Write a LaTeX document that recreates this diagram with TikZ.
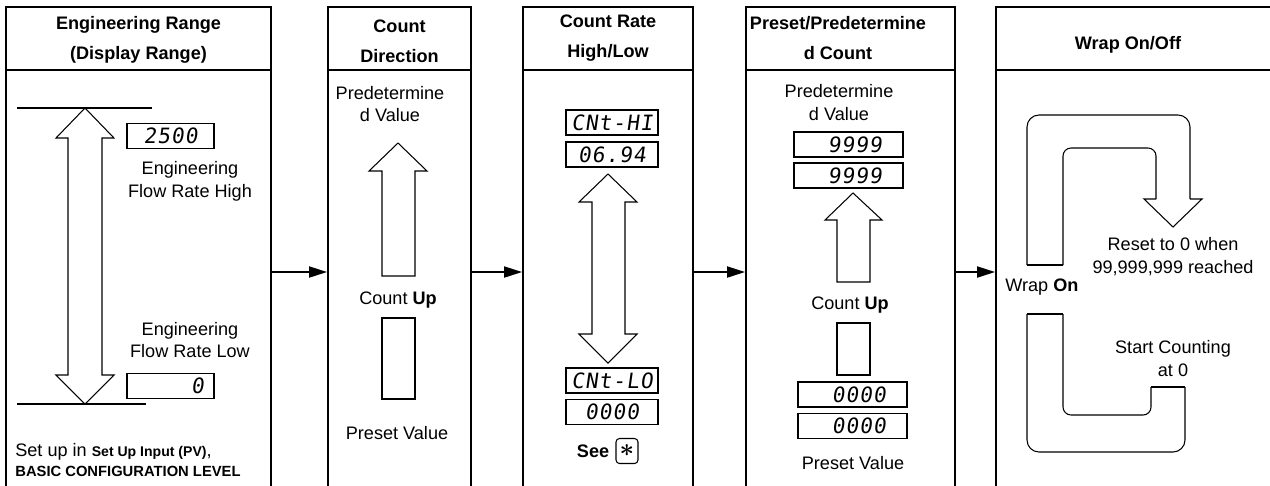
\documentclass[tikz,border=0pt]{standalone}
\usepackage{amsmath}
\usepackage{fontspec}
\setmainfont{Liberation Sans}
\newfontfamily\segfont[LetterSpace=5,FakeSlant=0.14]{DejaVu Sans Mono}
\usetikzlibrary{arrows.meta,positioning}

\tikzset{
  panel/.style={draw,line width=1.1pt,inner sep=0pt,minimum height=9.66cm},
  head/.style={font=\fontsize{10.3}{17}\selectfont\bfseries,align=center,inner sep=0pt},
  body/.style={font=\fontsize{10.3}{13}\selectfont,align=center,inner sep=0pt},
  lcd/.style={draw,line width=.6pt,minimum width=#1,minimum height=0.5cm,inner sep=0pt,
    font=\segfont\fontsize{12}{12}\selectfont},
  hollow/.style={draw,line width=.6pt},
  starkey/.style={draw,line width=.6pt,rounded corners=2pt,minimum width=0.44cm,minimum height=0.5cm,inner sep=0pt},
  flow/.style={-{Triangle[length=3.6mm,width=2.2mm]},line width=1.1pt},
}

\begin{document}
\begin{tikzpicture}[x=0.02cm,y=-0.02cm]
  \useasboundingbox (0,0) rectangle (1270,485);
  % panels
  \node[panel,minimum width=5.3cm]  (range)  at (138.5,248.5) {};
  \node[panel,minimum width=2.86cm] (dir)    at (399.5,248.5) {};
  \node[panel,minimum width=3.4cm]  (rate)   at (608,248.5)   {};
  \node[panel,minimum width=4.18cm] (preset) at (850.5,248.5) {};
  \node[panel,minimum width=5.58cm] (wrap)   at (1135.5,248.5) {};
  \coordinate (hdr) at (0,70);
  \coordinate (row) at (0,272);
  \foreach \p in {range,dir,rate,preset,wrap}
    \draw[line width=.6pt] (\p.west |- hdr) -- (\p.east |- hdr);
  \draw[flow] (range.east |- row) -- (dir.west |- row);
  \draw[flow] (dir.east |- row) -- (rate.west |- row);
  \draw[flow] (rate.east |- row) -- (preset.west |- row);
  \draw[flow] (preset.east |- row) -- (wrap.west |- row);

  % engineering range
  \node[head] (rangeT) at (138.5,40) {Engineering Range\\(Display Range)};
  \draw[line width=.6pt] (17,108) -- (152,108);
  \draw[line width=.6pt] (17,404) -- (146,404);
  \draw[hollow] (85,108) -- (114,138) -- (102,138) -- (102,375) -- (114,375) -- (85,404)
    -- (56,375) -- (68,375) -- (68,138) -- (56,138) -- cycle;
  \node[lcd=1.74cm] (engHi) at (170.5,136) {2500};
  \node[body] (engHiL) at (190,181.5) {Engineering\\Flow Rate High};
  \node[body] (engLoL) at (190,340) {Engineering\\Flow Rate Low};
  \node[lcd=1.74cm] (engLo) at (170.5,386) {\phantom{0000}0};
  \node[body,align=left,anchor=west,font=\fontsize{10.3}{11.4}\selectfont] (setup) at (15,460)
    {Set up in {\fontsize{8}{8}\selectfont\bfseries Set Up Input (PV)},\\
     {\fontsize{8.4}{8}\selectfont\bfseries BASIC CONFIGURATION LEVEL}};

  % count direction
  \node[head] (dirT) at (399.5,41) {Count\\Direction};
  \node[body] (dirPre) at (390,104) {Predetermine\\d Value};
  \draw[hollow] (398,143) -- (427,171) -- (415,171) -- (415,276) -- (382,276) -- (382,171)
    -- (369,171) -- cycle;
  \node[body] (dirUp) at (398,300) {Count \textbf{Up}};
  \draw[hollow] (382,318) rectangle (415,399);
  \node[body] (dirSet) at (397,433) {Preset Value};

  % count rate
  \node[head] (rateT) at (608,38) {Count Rate\\High/Low};
  \node[lcd=1.84cm] (cntHi)  at (612,122.5) {CNt-HI};
  \node[lcd=1.84cm] (cntHiV) at (612,154.5) {06.94};
  \draw[hollow] (608,174) -- (637,202) -- (625,202) -- (625,334) -- (637,334) -- (608,363)
    -- (579,334) -- (592,334) -- (592,202) -- (579,202) -- cycle;
  \node[lcd=1.84cm] (cntLo)  at (612,380.5) {CNt-LO};
  \node[lcd=1.84cm] (cntLoV) at (612,412) {0000};
  \node[starkey] (star) at (627,451) {\fontsize{15}{15}\selectfont$\boldsymbol{\ast}$};
  \node[body,font=\fontsize{10.3}{13}\selectfont\bfseries,left=0.12cm of star] (see) {See};

  % preset / predetermined count
  \node[head] (presetT) at (838,38) {Preset/Predetermine\\d Count};
  \node[body] (presetPre) at (839,102.5) {Predetermine\\d Value};
  \node[lcd=2.18cm] (preHi) at (848.5,144.5) {\phantom{0}9999};
  \node[lcd=2.18cm] (preLo) at (848.5,175.5) {\phantom{0}9999};
  \draw[hollow] (853,193) -- (882,220) -- (870,220) -- (870,282) -- (837,282) -- (837,220)
    -- (825,220) -- cycle;
  \node[body] (presetUp) at (850,305) {Count \textbf{Up}};
  \draw[hollow] (837,323) rectangle (870,375);
  \node[lcd=2.18cm] (setHi) at (852.5,394.5) {\phantom{0}0000};
  \node[lcd=2.18cm] (setLo) at (852.5,426) {\phantom{0}0000};
  \node[body] (presetSet) at (853,463) {Preset Value};

  % wrap on/off
  \node[head] (wrapT) at (1128,45) {Wrap On/Off};
  \draw[hollow,rounded corners=0.24cm] (1027,265) -- (1027,115) -- (1190,115) -- (1190,199);
  \draw[hollow] (1190,199) -- (1202,199) -- (1173,227) -- (1144,199) -- (1156,199);
  \draw[hollow,rounded corners=0.16cm] (1156,199) -- (1156,148) -- (1063,148) -- (1063,265);
  \draw[hollow] (1063,265) -- (1027,265);
  \draw[hollow,rounded corners=0.24cm] (1027,314) -- (1027,452) -- (1185,452) -- (1185,387);
  \draw[hollow] (1185,387) -- (1151,387);
  \draw[hollow,rounded corners=0.16cm] (1151,387) -- (1151,415) -- (1063,415) -- (1063,314);
  \draw[hollow] (1063,314) -- (1027,314);
  \node[body] (reset) at (1173,256.5) {Reset to 0 when\\99,999,999 reached};
  \node[body,anchor=west] (wrapOn) at (1005,287) {Wrap \textbf{On}};
  \node[body] (start) at (1173,358.5) {Start Counting\\at 0};
\end{tikzpicture}
\end{document}
